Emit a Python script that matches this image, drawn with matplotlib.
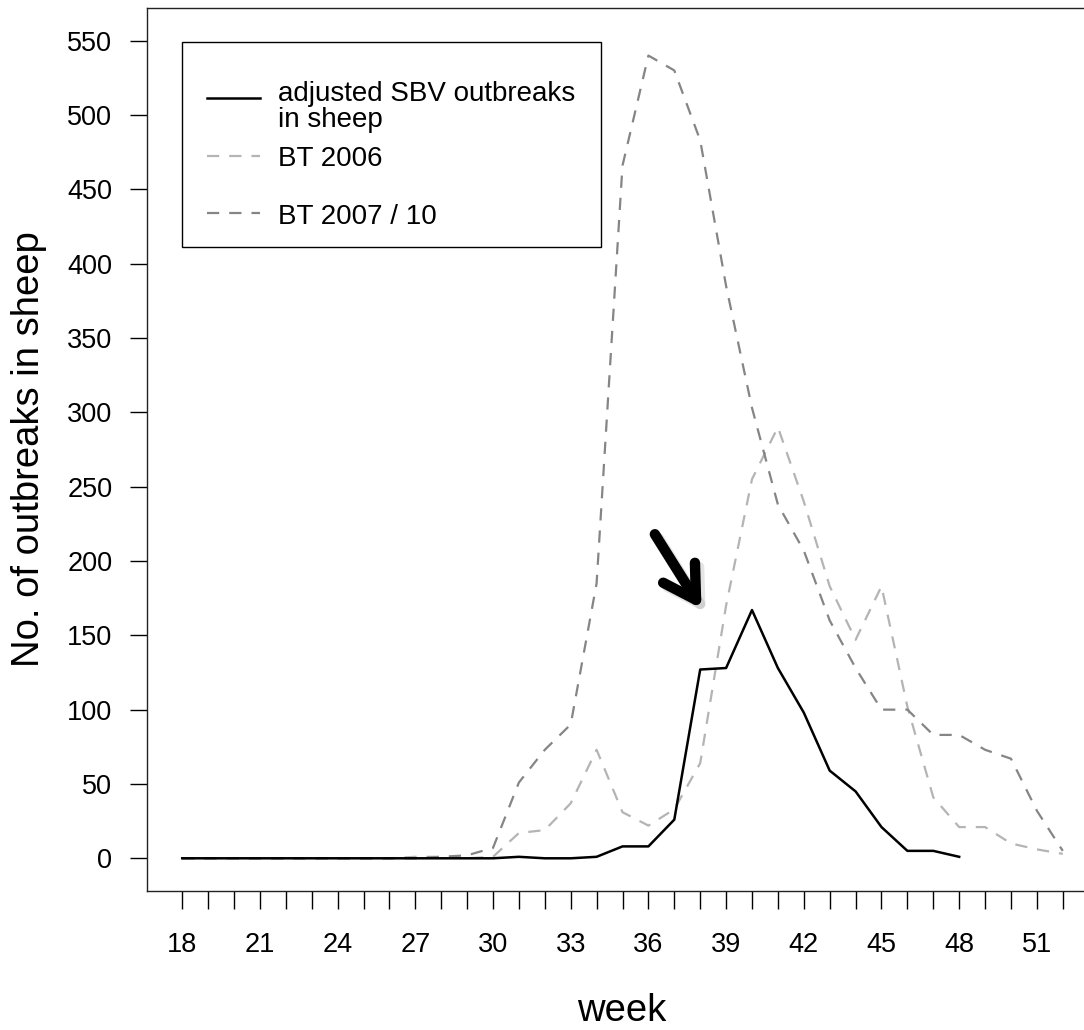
import matplotlib
matplotlib.use("Agg")
import matplotlib.pyplot as plt
import matplotlib.patheffects as pe
from matplotlib.patches import Rectangle
from matplotlib.lines import Line2D

plt.rcParams['font.family'] = ['Liberation Sans', 'DejaVu Sans']

# ---- data ----
weeks_all = list(range(18, 53))
weeks_sbv = list(range(18, 49))
sbv = [0, 0, 0, 0, 0, 0, 0, 0, 0, 0, 0, 0, 0,   # 18-30
       1, 0, 0, 1, 8, 8, 26, 127, 128, 167, 128, 98, 59, 45, 21, 5, 5, 1]  # 31-48
bt2006 = [0, 0, 0, 0, 0, 0, 0, 0, 0, 1, 1, 0,   # 18-29
          1, 17, 19, 37, 73, 31, 22, 33, 64, 170, 255, 290, 240, 183, 147, 183,
          102, 41, 21, 21, 10, 6, 3]  # 30-52
bt2007 = [0, 0, 0, 0, 0, 0, 0, 0, 0, 0, 1, 2,   # 18-29
          7, 51, 73, 90, 185, 466, 540, 530, 483, 385, 303, 238, 207, 160, 128,
          100, 100, 83, 83, 73, 67, 32, 5]  # 30-52
xtick_labels = [str(w) for w in range(18, 53, 3)]
yticks = list(range(0, 551, 50))
legend_labels = ["adjusted SBV outbreaks", "in sheep", "BT 2006", "BT 2007 / 10"]

# arrow annotation (week, value)
arrow_tip = (38.05, 168)
arrow_start = (36.25, 218)

c_light = "#b4b4b4"
c_dark = "#858585"

W, H = 1084, 1030
fig = plt.figure(figsize=(W / 100, H / 100), dpi=100)
ax = fig.add_axes([147 / W, (H - 891) / H, 951 / W, 883 / H])

dash = (0, (5.5, 4.5))
ax.plot(weeks_all, bt2006, color=c_light, lw=1.6, linestyle=dash)
ax.plot(weeks_all, bt2007, color=c_dark, lw=1.6, linestyle=dash)
ax.plot(weeks_sbv, sbv, color="black", lw=1.8)

ax.set_xlim(18 - 0.04 * 34, 52 + 0.04 * 34)
ax.set_ylim(-22, 572)

ax.set_xticks(weeks_all)
ax.set_xticklabels([w if str(w) in xtick_labels else "" for w in map(str, weeks_all)])
ax.set_yticks(yticks)
ax.set_yticklabels([str(v) for v in yticks])
ax.tick_params(axis='x', direction='out', length=13, width=1.0, pad=16.5,
               labelsize=19.5, color='black')
ax.tick_params(axis='y', direction='out', length=12, width=1.0, pad=13,
               labelsize=19.5, color='black')
for s in ax.spines.values():
    s.set_linewidth(1.0)
    s.set_color('#222222')

fig.text(622 / W, 1 - 1021 / H, "week", ha='center', va='baseline', fontsize=27.5)
fig.text(29 / W, 1 - 449 / H, "No. of outbreaks in sheep", ha='center', va='center',
         rotation=90, fontsize=27.5)

# legend drawn manually to match layout
T = ax.transAxes
def fx(px):
    return (px - 147) / 951
def fy(py):
    return (891 - py) / 883
ax.add_patch(Rectangle((fx(182), fy(247)), fx(601) - fx(182), fy(42) - fy(247),
                       transform=T, fill=False, edgecolor='black', lw=1.0, zorder=5))
ax.add_line(Line2D([fx(207), fx(260)], [fy(98), fy(98)], transform=T, color='black', lw=1.8))
ax.add_line(Line2D([fx(207), fx(260)], [fy(156), fy(156)], transform=T, color=c_light,
                   lw=1.6, linestyle=dash))
ax.add_line(Line2D([fx(207), fx(260)], [fy(213), fy(213)], transform=T, color=c_dark,
                   lw=1.6, linestyle=dash))
for lab, by in zip(legend_labels, [101, 127, 166.5, 223.5]):
    ax.text(fx(278), fy(by), lab, transform=T, ha='left', va='baseline', fontsize=20)

ax.annotate("", xy=arrow_tip, xytext=arrow_start,
            arrowprops=dict(arrowstyle="->,head_length=0.46,head_width=0.27",
                            lw=7.5, color='black', mutation_scale=50,
                            capstyle='round', joinstyle='round', shrinkA=0, shrinkB=0,
                            path_effects=[pe.SimpleLineShadow(offset=(3, -3), alpha=0.2,
                                                              shadow_color='gray'),
                                          pe.Normal()]))

fig.savefig("out.png", dpi=100)
